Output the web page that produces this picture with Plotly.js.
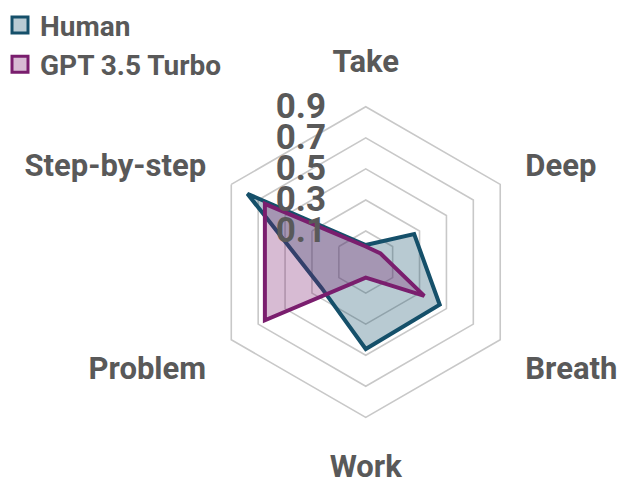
<!DOCTYPE html>
<html>
<head>
<meta charset="utf-8">
<script src="https://cdn.plot.ly/plotly-3.0.1.min.js"></script>
<style>
  html, body { margin: 0; padding: 0; background: #ffffff; }
  #radar { width: 638px; height: 495px; }
</style>
</head>
<body>
<div id="radar"></div>
<script>
// categories around the radar, clockwise from the top
let categorias = ["Take", "Deep", "Breath", "Work", "Problem", "Step-by-step"];

// values
let valoresHuman = [0.01, 0.26, 0.45, 0.46, 0.23, 0.78];
let valoresGPT = [0.00, 0.01, 0.335, 0.00, 0.65, 0.65];

let ticksRadiales = [0.1, 0.3, 0.5, 0.7, 0.9];
let ticksTexto = ["0.1", "0.3", "0.5", "0.7", "0.9"];

let fontColor = "#595959";
let fuente = "Roboto, 'Liberation Sans Narrow', sans-serif";

function cerrar(arr) {
  return arr.concat([arr[0]]);
}

let traceHuman = {
  type: "scatterpolar",
  r: cerrar(valoresHuman),
  theta: cerrar(categorias),
  name: "Human",
  showlegend: false,
  mode: "lines",
  fill: "toself",
  fillcolor: "rgba(21, 80, 106, 0.30)",
  line: {color: "#15506a", width: 4},
  hoverinfo: "skip"
};

let traceGPT = {
  type: "scatterpolar",
  r: cerrar(valoresGPT),
  theta: cerrar(categorias),
  name: "GPT 3.5 Turbo",
  showlegend: false,
  mode: "lines",
  fill: "toself",
  fillcolor: "rgba(122, 30, 110, 0.30)",
  line: {color: "#7a1e6e", width: 4},
  hoverinfo: "skip"
};

// legend-only entries (square swatches like the original)
let leyendaHuman = {
  type: "scatterpolar",
  r: [null],
  theta: [null],
  name: "Human",
  mode: "markers",
  marker: {symbol: "square", size: 19, color: "#b9cbd3",
           line: {color: "#15506a", width: 3}},
  hoverinfo: "skip"
};

let leyendaGPT = {
  type: "scatterpolar",
  r: [null],
  theta: [null],
  name: "GPT 3.5 Turbo",
  mode: "markers",
  marker: {symbol: "square", size: 19, color: "#d8bcd4",
           line: {color: "#7a1e6e", width: 3}},
  hoverinfo: "skip"
};

let layout = {
  width: 638,
  height: 495,
  margin: {l: 0, r: 0, t: 0, b: 0},
  paper_bgcolor: "#ffffff",
  font: {family: fuente, color: fontColor},
  showlegend: true,
  legend: {
    x: -0.013,
    y: 1.035,
    xanchor: "left",
    yanchor: "top",
    font: {size: 28, color: fontColor, family: fuente, weight: "bold"},
    itemwidth: 30
  },
  polar: {
    domain: {x: [0.3158, 0.8199], y: [0.1625, 0.8122]},
    gridshape: "linear",
    bgcolor: "rgba(0,0,0,0)",
    angularaxis: {
      rotation: 90,
      direction: "clockwise",
      showline: true,
      linecolor: "#c8c8c8",
      linewidth: 1.6,
      gridcolor: "rgba(0,0,0,0)",
      ticks: "outside",
      ticklen: 22,
      tickcolor: "rgba(0,0,0,0)",
      tickfont: {size: 31, color: fontColor, family: fuente, weight: "bold"}
    },
    radialaxis: {
      range: [-0.1, 0.9],
      angle: 90,
      side: "counterclockwise",
      tickangle: 90,
      tickvals: ticksRadiales,
      ticktext: ticksTexto,
      showline: false,
      gridcolor: "#c8c8c8",
      gridwidth: 1.6,
      ticks: "outside",
      ticklen: 27,
      tickcolor: "rgba(0,0,0,0)",
      tickfont: {size: 35, color: fontColor, family: fuente, weight: "bold"}
    }
  }
};

let config = {responsive: false, displayModeBar: false, staticPlot: true};
Plotly.newPlot("radar", [traceHuman, traceGPT, leyendaHuman, leyendaGPT], layout, config);
</script>
</body>
</html>
